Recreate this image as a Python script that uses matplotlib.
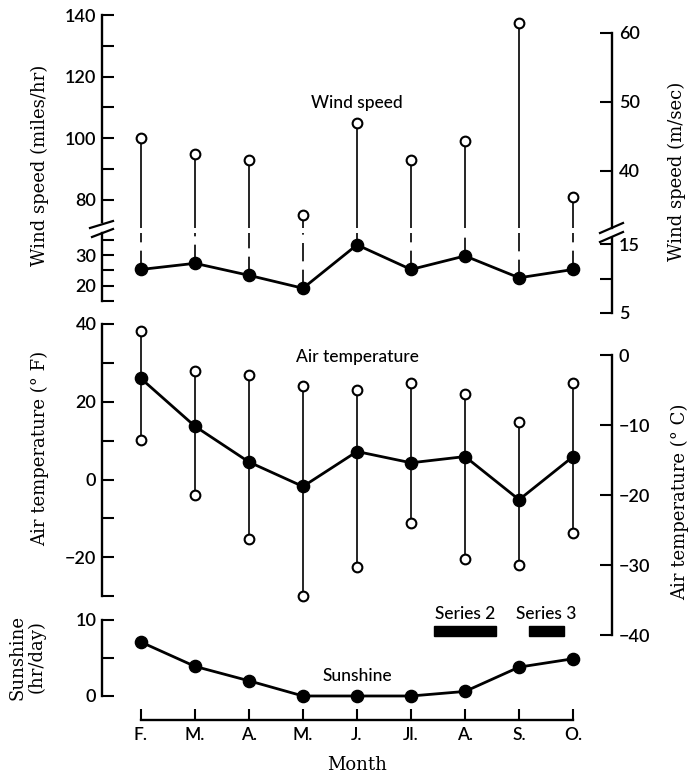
import matplotlib
matplotlib.use('Agg')
import matplotlib.pyplot as plt
from matplotlib.lines import Line2D
from matplotlib.patches import Rectangle
from matplotlib.ticker import FixedLocator

months = ['F.', 'M.', 'A.', 'M.', 'J.', 'Jl.', 'A.', 'S.', 'O.']
wind_mean_mph = [25.3, 27.3, 23.4, 19.2, 33.3, 25.3, 29.7, 22.6, 25.3]
wind_max_mph = [100, 95, 93, 75, 105, 93, 99, 137.5, 81]
temp_mean_f = [26.0, 13.7, 4.5, -1.8, 7.2, 4.3, 5.9, -5.2, 5.9]
temp_max_f = [38.2, 27.9, 26.8, 24.0, 23.1, 24.7, 21.9, 14.8, 24.7]
temp_min_f = [10.1, -4.1, -15.3, -30.0, -22.6, -11.3, -20.5, -21.9, -13.8]
sunshine_hr = [7.1, 3.9, 2.0, 0.0, 0.0, 0.0, 0.6, 3.8, 4.9]
series_names = ['Series 2', 'Series 3']
series_start = [5.42, 7.18]
series_end = [6.57, 7.83]

MPH_PER_MS = 2.237
SANS = ['Lato', 'DejaVu Sans']
SERIF = ['DejaVu Serif']
W, H = 691, 778

x = list(range(len(months)))
fig = plt.figure(figsize=(W / 100, H / 100), dpi=100)


def box(top, bottom, left=102, right=612):
    # axes rectangle from pixel edges
    return [left / W, 1 - bottom / H, (right - left) / W, (bottom - top) / H]


def style(ax, side, major, minor=()):
    for s in ax.spines.values():
        s.set_visible(False)
    ax.spines[side].set_visible(True)
    ax.spines[side].set_linewidth(1.7)
    ax.patch.set_alpha(0)
    ax.set_xlim(-0.72, 8.72)
    ax.tick_params(axis='x', bottom=False, labelbottom=False, top=False)
    ax.yaxis.set_major_locator(FixedLocator(major))
    ax.yaxis.set_minor_locator(FixedLocator(list(minor)))
    ax.tick_params(axis='y', which='both', direction='in', length=8.5,
                   width=1.5, labelsize=13, pad=5 if side == 'right' else 4)
    for lab in ax.get_yticklabels():
        lab.set_family(SANS)
        lab.set_fontweight('semibold')


line_kw = dict(color='black', lw=2.0, zorder=3, clip_on=False)
dot_kw = dict(marker='o', ms=8.8, color='black', ls='none', zorder=4, clip_on=False)
open_kw = dict(marker='o', ms=7, mfc='white', mec='black', mew=1.5, ls='none',
               zorder=4, clip_on=False)
txt_kw = dict(ha='center', va='center', fontsize=12.5, family=SANS,
              fontweight='medium')

# ---- wind speed, upper part of broken axis
ax_wu = fig.add_axes(box(15, 228))
wu_lo = 140 - 213 / 3.08
ax_wu.set_ylim(wu_lo, 140)
style(ax_wu, 'left', [80, 100, 120, 140], [90, 110, 130])
ax_wu.spines['left'].set_bounds(72.8, 140)
ax_wu.vlines(x, wu_lo, wind_max_mph, color='black', lw=1.2, clip_on=False)
ax_wu.plot(x, wind_max_mph, **open_kw)
ax_wu.text(4.0, 111.5, 'Wind speed', **txt_kw)

ax_wu2 = ax_wu.twinx()
ax_wu2.set_ylim(wu_lo / MPH_PER_MS, 140 / MPH_PER_MS)
style(ax_wu2, 'right', [40, 50, 60])
ax_wu2.spines['right'].set_bounds(wu_lo / MPH_PER_MS, 60)

# ---- wind speed, lower part of broken axis
ax_wl = fig.add_axes(box(233, 316))
wl_lo, wl_hi = 30 - 61 / 3.08, 30 + 22 / 3.08
ax_wl.set_ylim(wl_lo, wl_hi)
style(ax_wl, 'left', [20, 30], [15, 25, 35])
ax_wl.spines['left'].set_bounds(15, wl_hi)
ax_wl.vlines(x, wind_mean_mph, wl_hi, color='black', lw=1.2,
             linestyles=[(0, (11, 5))], clip_on=False)
ax_wl.plot(x, wind_mean_mph, **line_kw)
ax_wl.plot(x, wind_mean_mph, **dot_kw)

ax_wl2 = ax_wl.twinx()
ax_wl2.set_ylim(wl_lo / MPH_PER_MS, wl_hi / MPH_PER_MS)
style(ax_wl2, 'right', [5, 15], [10])
ax_wl2.spines['right'].set_bounds(5, 15.9)

# break marks
for x1, y1, x2, y2 in [(90, 228, 113, 221), (92, 237, 113, 229),
                       (600, 233, 623, 223), (600, 242, 623, 232)]:
    fig.add_artist(Line2D([x1 / W, x2 / W], [1 - y1 / H, 1 - y2 / H],
                          transform=fig.transFigure, color='black', lw=1.6))

# ---- air temperature
ax_t = fig.add_axes(box(324, 635))
ax_t.set_ylim(-40, 40)
style(ax_t, 'left', [-20, 0, 20, 40], [-30, -10, 10, 30])
ax_t.spines['left'].set_bounds(-30, 40)
ax_t.vlines(x, temp_min_f, temp_max_f, color='black', lw=1.2, clip_on=False)
ax_t.plot(x, temp_mean_f, **line_kw)
ax_t.plot(x, temp_mean_f, **dot_kw)
ax_t.plot(x, temp_max_f, **open_kw)
ax_t.plot(x, temp_min_f, **open_kw)
ax_t.text(4.0, 31.5, 'Air temperature', **txt_kw)

ax_t2 = ax_t.twinx()
ax_t2.set_ylim((-40 - 32) / 1.8, (40 - 32) / 1.8)
style(ax_t2, 'right', [-40, -30, -20, -10, 0])
ax_t2.spines['right'].set_bounds(-40, 0)

# ---- sunshine
ax_s = fig.add_axes(box(620, 720))
ax_s.set_ylim(-3.16, 10)
style(ax_s, 'left', [0, 10], [5])
ax_s.spines['left'].set_bounds(0, 10)
ax_s.spines['bottom'].set_visible(True)
ax_s.spines['bottom'].set_linewidth(1.7)
ax_s.spines['bottom'].set_bounds(0, 8)
ax_s.set_xticks(x)
ax_s.set_xticklabels(months, family=SANS, fontsize=12.5, fontweight='semibold')
ax_s.tick_params(axis='x', bottom=True, labelbottom=True, direction='in',
                 length=8, width=1.5, pad=5)
ax_s.plot(x, sunshine_hr, **line_kw)
ax_s.plot(x, sunshine_hr, **dot_kw)
ax_s.text(4.0, 2.6, 'Sunshine', **txt_kw)
for name, s, e in zip(series_names, series_start, series_end):
    ax_s.add_patch(Rectangle((s, 7.9), e - s, 1.3, color='black', clip_on=False))
    ax_s.text((s + e) / 2, 10.85, name, **txt_kw)

# axis titles
lab_kw = dict(family=SERIF, fontsize=13, ha='center', va='center')
fig.text(40 / W, 1 - 165 / H, 'Wind speed (miles/hr)', rotation=90, **lab_kw)
fig.text(40 / W, 1 - 448 / H, 'Air temperature (° F)', rotation=90, **lab_kw)
fig.text(27 / W, 1 - 657 / H, 'Sunshine\n(hr/day)', rotation=90,
         linespacing=1.1, **lab_kw)
fig.text(677 / W, 1 - 171 / H, 'Wind speed (m/sec)', rotation=90, **lab_kw)
fig.text(680 / W, 1 - 502 / H, 'Air temperature (° C)', rotation=90, **lab_kw)
fig.text(357 / W, 1 - 765 / H, 'Month', **lab_kw)

fig.savefig('out.png', dpi=100)
